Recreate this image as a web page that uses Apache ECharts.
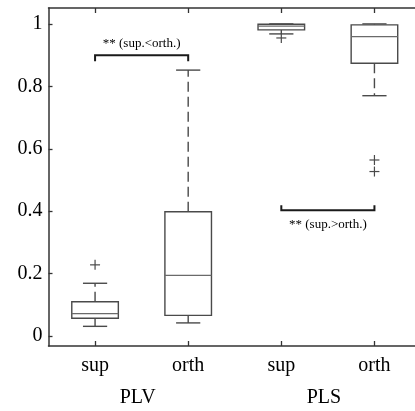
<!DOCTYPE html>
<html>
<head>
<meta charset="utf-8">
<script src="https://cdn.jsdelivr.net/npm/echarts@6/dist/echarts.min.js"></script>
<style>
  html, body { margin: 0; padding: 0; background: #fff; overflow: hidden; }
  #chart { width: 422px; height: 411px; }
</style>
</head>
<body>
<div id="chart"></div>
<script>
// Boxplots of PLV / PLS for sup vs orth conditions
const categories = ['sup', 'orth', 'sup', 'orth'];
const groupNames = ['PLV', 'PLS'];
const whiskerLow  = [0.031, 0.042, 0.968, 0.770];
const lowerQuart  = [0.057, 0.066, 0.981, 0.874];
const medians     = [0.072, 0.194, 0.993, 0.959];
const upperQuart  = [0.110, 0.398, 0.999, 0.997];
const whiskerHigh = [0.169, 0.852, 1.000, 1.000];
const outliers = [[0, 0.228], [2, 0.955], [3, 0.564], [3, 0.527]];
const yTicks = [0, 0.2, 0.4, 0.6, 0.8, 1];
const bracketFrom  = [0, 2];
const bracketTo    = [1, 3];
const bracketValue = [0.900, 0.403];
const bracketText  = ['** (sup.<orth.)', '** (sup.>orth.)'];

const Y_MIN = -0.032, Y_MAX = 1.051;
const FONT = '"Liberation Serif", "Times New Roman", serif';
const LINE = '#4a4a4a';

const chart = echarts.init(document.getElementById('chart'), null, { renderer: 'canvas' });

const boxData = categories.map((c, i) =>
  [i, whiskerLow[i], lowerQuart[i], medians[i], upperQuart[i], whiskerHigh[i]]);

function renderBox(params, api) {
  const i = api.value(0);
  const band = api.size([1, 0])[0];
  const half = band * 0.25;
  const capHalf = band * 0.13;
  const x = api.coord([i, 0])[0];
  const y = v => api.coord([i, v])[1];
  const yLo = y(api.value(1)), yQ1 = y(api.value(2)), yMed = y(api.value(3)),
        yQ3 = y(api.value(4)), yHi = y(api.value(5));
  const solid = { stroke: LINE, lineWidth: 1.4, fill: null };
  const dashed = { stroke: LINE, lineWidth: 1.4, lineDash: [10, 5] };
  return {
    type: 'group',
    children: [
      { type: 'line', shape: { x1: x, y1: yQ3, x2: x, y2: yHi }, style: dashed },
      { type: 'line', shape: { x1: x, y1: yQ1, x2: x, y2: yLo }, style: dashed },
      { type: 'line', shape: { x1: x - capHalf, y1: yHi, x2: x + capHalf, y2: yHi }, style: solid },
      { type: 'line', shape: { x1: x - capHalf, y1: yLo, x2: x + capHalf, y2: yLo }, style: solid },
      { type: 'rect', shape: { x: x - half, y: yQ3, width: half * 2, height: yQ1 - yQ3 },
        style: { stroke: LINE, lineWidth: 1.4, fill: '#fff' } },
      { type: 'line', shape: { x1: x - half, y1: yMed, x2: x + half, y2: yMed },
        style: { stroke: '#6a6a6a', lineWidth: 1.3 } }
    ]
  };
}

function renderOutlier(params, api) {
  const p = api.coord([api.value(0), api.value(1)]);
  const s = 5;
  const st = { stroke: '#4a4a4a', lineWidth: 1.2 };
  return {
    type: 'group',
    children: [
      { type: 'line', shape: { x1: p[0] - s, y1: p[1], x2: p[0] + s, y2: p[1] }, style: st },
      { type: 'line', shape: { x1: p[0], y1: p[1] - s, x2: p[0], y2: p[1] + s }, style: st }
    ]
  };
}

function renderBracket(params, api) {
  const idx = params.dataIndex;
  const a = api.coord([api.value(0), api.value(2)]);
  const b = api.coord([api.value(1), api.value(2)]);
  // first bracket opens downward, second opens upward
  const dir = idx === 0 ? 6 : -5;
  const st = { stroke: '#1a1a1a', lineWidth: 2, fill: null };
  const textY = idx === 0 ? a[1] - 12 : a[1] + 14;
  return {
    type: 'group',
    children: [
      { type: 'polyline', shape: { points: [[a[0], a[1] + dir], [a[0], a[1]], [b[0], b[1]], [b[0], b[1] + dir]] }, style: st },
      { type: 'text', x: (a[0] + b[0]) / 2, y: textY,
        style: { text: bracketText[idx], fill: '#000', font: '13px ' + FONT, align: 'center', verticalAlign: 'middle' } }
    ]
  };
}

function renderGroupLabel(params, api) {
  const g = api.value(0);
  const a = api.coord([g * 2, Y_MIN]);
  const b = api.coord([g * 2 + 1, Y_MIN]);
  return {
    type: 'text',
    x: (a[0] + b[0]) / 2 - 4,
    y: a[1] + 52,
    style: { text: groupNames[g], fill: '#000', font: '20px ' + FONT, align: 'center', verticalAlign: 'middle' }
  };
}

const tickStyle = { color: '#333', width: 1.3 };

chart.setOption({
  backgroundColor: '#fff',
  animation: false,
  grid: { left: 48.5, top: 8, width: 372.5, bottom: 65, containLabel: false },
  xAxis: [
    {
      type: 'category', data: categories, boundaryGap: true, position: 'bottom',
      axisLine: { onZero: false, lineStyle: { color: '#333', width: 1.5 } },
      axisTick: { show: true, inside: true, length: 5, alignWithLabel: true, interval: 0, lineStyle: tickStyle },
      axisLabel: { color: '#000', fontFamily: FONT, fontSize: 20, margin: 10 },
      splitLine: { show: false }
    },
    {
      type: 'category', data: categories, boundaryGap: true, position: 'top',
      axisLine: { onZero: false, lineStyle: { color: '#333', width: 1.5 } },
      axisTick: { show: true, inside: true, length: 5, alignWithLabel: true, interval: 0, lineStyle: tickStyle },
      axisLabel: { show: false },
      splitLine: { show: false }
    }
  ],
  yAxis: [
    {
      type: 'value', min: Y_MIN, max: Y_MAX, position: 'left',
      axisLine: { show: true, onZero: false, lineStyle: { color: '#333', width: 1.5 } },
      axisTick: { show: true, inside: true, length: 4, customValues: yTicks, lineStyle: tickStyle },
      axisLabel: { show: true, customValues: yTicks, color: '#000', fontFamily: FONT, fontSize: 20, margin: 6,
                   formatter: v => String(Math.round(v * 10) / 10) },
      splitLine: { show: false }
    },
    {
      type: 'value', min: Y_MIN, max: Y_MAX, position: 'right',
      axisLine: { show: true, onZero: false, lineStyle: { color: '#333', width: 1.5 } },
      axisTick: { show: false }, axisLabel: { show: false }, splitLine: { show: false }
    }
  ],
  series: [
    { type: 'custom', name: 'boxes', renderItem: renderBox, data: boxData, clip: false, z: 2 },
    { type: 'custom', name: 'outliers', renderItem: renderOutlier, data: outliers, clip: false, z: 3 },
    { type: 'custom', name: 'brackets', renderItem: renderBracket,
      data: bracketFrom.map((f, i) => [f, bracketTo[i], bracketValue[i]]), clip: false, z: 3 },
    { type: 'custom', name: 'groups', renderItem: renderGroupLabel,
      data: groupNames.map((g, i) => [i]), clip: false, z: 3 }
  ]
});
</script>
</body>
</html>
